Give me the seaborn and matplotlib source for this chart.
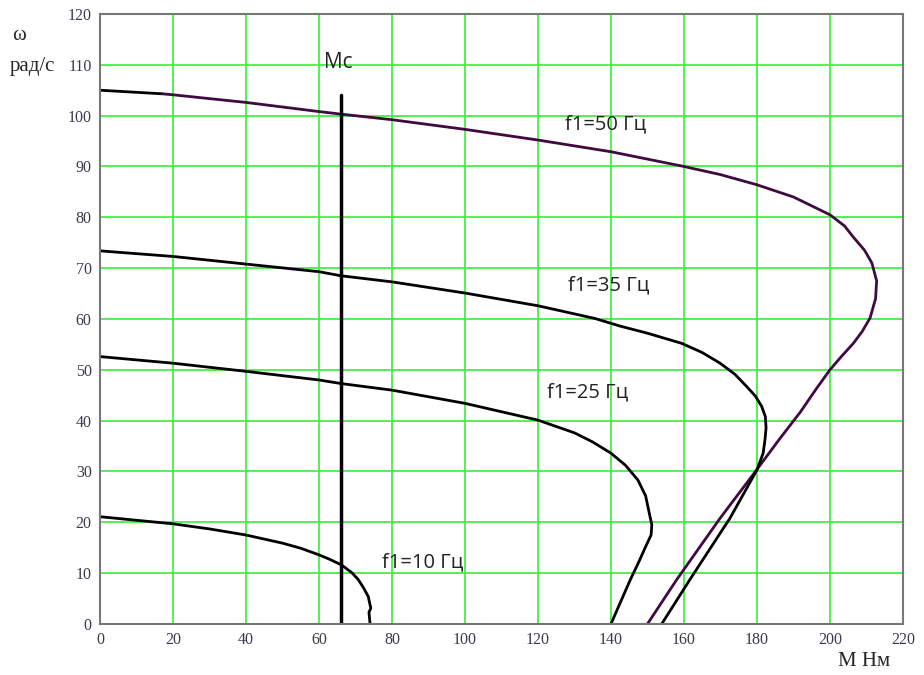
import matplotlib
matplotlib.use('Agg')
import matplotlib.pyplot as plt
import seaborn as sns

# механические характеристики: момент M (Нм) и скорость w (рад/с)
m50 = [0, 17, 20, 40, 60, 66, 80, 100, 120, 140, 160, 170, 180, 190, 200, 204, 206.3, 209.5, 211.5,
       212.8, 212.5, 211, 208.8, 206.4, 203, 200, 196, 192, 186, 179.9, 169.9, 158, 150]
w50 = [105, 104.3, 104.1, 102.6, 100.8, 100.3, 99.2, 97.3, 95.2, 92.9, 90.0, 88.4, 86.4, 84, 80.5, 78.3, 76.2, 73.5, 71,
       67.5, 64, 60.2, 57.5, 55.2, 52.5, 50, 46, 41.8, 36.2, 30.3, 20.8, 8.7, 0]

m35 = [0, 20, 40, 60, 66, 80, 100, 120, 135.6, 142.5, 150, 159.4, 165, 169.9, 174, 177.2, 179.6, 181.3, 182.3,
       182.5, 182.2, 181.7, 180, 172.6, 161.6, 153.9]
w35 = [73.4, 72.3, 70.8, 69.3, 68.5, 67.3, 65.1, 62.6, 60.1, 58.6, 57.2, 55.2, 53.4, 51.3, 49.1, 46.7, 44.8, 42.8, 40.8,
       38.6, 36.2, 33.6, 30.3, 20.8, 8.7, 0]

m25 = [0, 20, 40, 60, 66, 80, 100, 120, 130, 135, 140, 144, 147.4, 149.5, 150.5, 151.2, 151, 149.5, 147.5, 145.3, 140]
w25 = [52.6, 51.3, 49.7, 48.0, 47.3, 46, 43.4, 40.1, 37.6, 35.8, 33.6, 31.2, 28.3, 25.2, 21.8, 19.5, 17.5, 15.2, 12, 8.7, 0]

m10 = [0, 20, 30, 40, 50, 55, 60, 63, 66.2, 69, 70.8, 72.3, 73.5, 74.2, 73.7, 74]
w10 = [21.1, 19.7, 18.7, 17.5, 15.9, 14.9, 13.6, 12.7, 11.6, 10.1, 8.7, 7.0, 5.4, 3.1, 2.3, 0]

mc = 66
mc_top = 104

labels = ['f1=50 Гц', 'f1=35 Гц', 'f1=25 Гц', 'f1=10 Гц']
label_x = [127.4, 128.2, 122.5, 77.3]
label_y = [98.2, 66.7, 45.6, 12.2]

sns.set_style('white')

fig = plt.figure(figsize=(9.24, 6.75), dpi=100)
ax = fig.add_axes([0.1082, 0.0756, 0.869, 0.9037])

purple = '#400a40'
lw = 2.0

# 50 Гц: начало чёрное, дальше фиолетовое
sns.lineplot(x=m50[:2], y=w50[:2], sort=False, estimator=None, color='black', lw=lw, ax=ax)
sns.lineplot(x=m50[1:], y=w50[1:], sort=False, estimator=None, color=purple, lw=lw, ax=ax)
sns.lineplot(x=m35, y=w35, sort=False, estimator=None, color='black', lw=lw, ax=ax)
sns.lineplot(x=m25, y=w25, sort=False, estimator=None, color='black', lw=lw, ax=ax)
sns.lineplot(x=m10, y=w10, sort=False, estimator=None, color='black', lw=lw, ax=ax)

# момент сопротивления
ax.plot([mc, mc], [0, mc_top], color='black', lw=2.5)
ax.text(mc - 4.5, 110.5, 'Mc', fontsize=15, family='Open Sans', va='center', color='#222222')

for t, x, y in zip(labels, label_x, label_y):
    ax.text(x, y, t, fontsize=14.5, family='Open Sans', va='center', color='#222222')

ax.set_xlim(0, 220)
ax.set_ylim(0, 120)
ax.set_xticks(range(0, 221, 20))
ax.set_yticks(range(0, 121, 10))
ax.grid(True, color='#44f044', lw=1.3)
ax.set_axisbelow(True)
ax.tick_params(length=0, pad=6, labelsize=11.5, labelcolor='#3a3a4a')
for lab in ax.get_xticklabels() + ax.get_yticklabels():
    lab.set_family('Liberation Serif')
for s in ax.spines.values():
    s.set_color('#777777')
    s.set_linewidth(1.5)

fig.text(12 / 924, 1 - 35 / 675, 'ω', fontsize=15, family='Liberation Serif', va='center')
fig.text(10 / 924, 1 - 67 / 675, 'рад/с', fontsize=15, family='Liberation Serif', va='center')
fig.text(838 / 924, 1 - 662 / 675, 'М Нм', fontsize=15, family='Liberation Serif', va='center')

fig.savefig('out.png', dpi=100)
